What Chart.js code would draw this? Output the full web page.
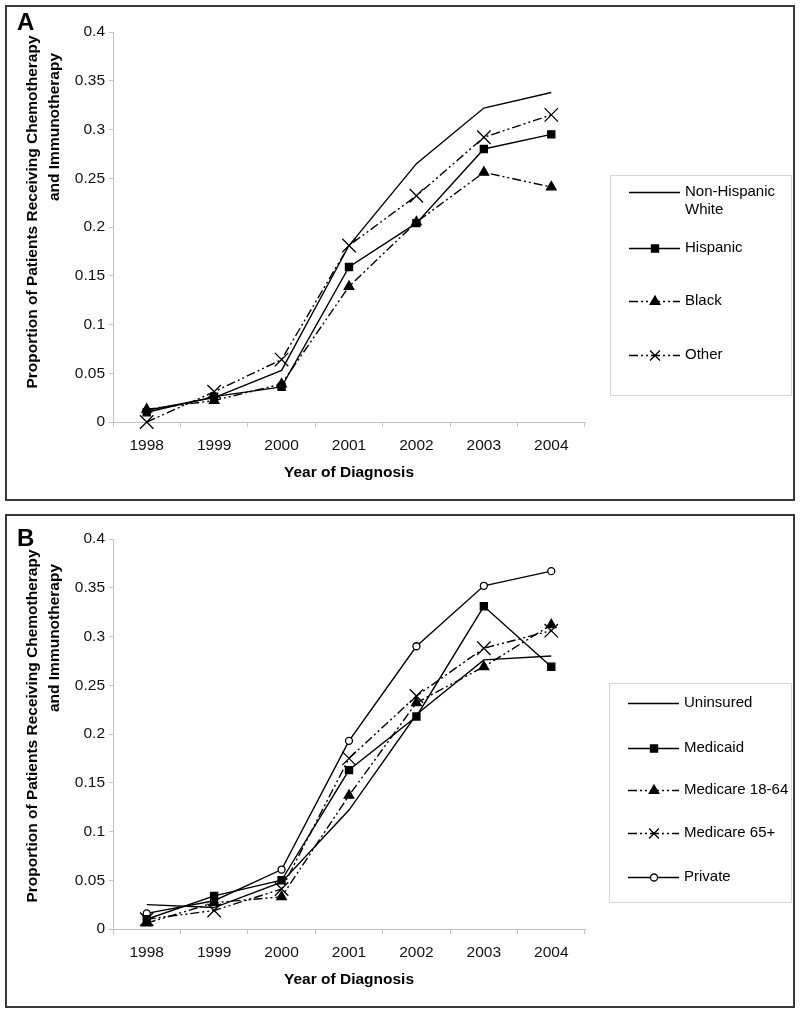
<!DOCTYPE html>
<html>
<head>
<meta charset="utf-8">
<script src="https://cdn.jsdelivr.net/npm/chart.js@4.4.1/dist/chart.umd.min.js"></script>
<style>
  body { margin: 0; background: #fff; width: 800px; height: 1015px; position: relative; }
  .panel { position: absolute; left: 5px; width: 790px; border: 2px solid #3a3a3a; box-sizing: border-box; background: #fff; }
  #panelA { top: 5px; height: 496px; }
  #panelB { top: 514px; height: 494px; }
  canvas { display: block; }
</style>
</head>
<body>
<div class="panel" id="panelA"><canvas id="chartA" width="786" height="492"></canvas></div>
<div class="panel" id="panelB"><canvas id="chartB" width="786" height="490"></canvas></div>
<script>
const years = ['1998', '1999', '2000', '2001', '2002', '2003', '2004'];
const yTickValues = [0, 0.05, 0.1, 0.15, 0.2, 0.25, 0.3, 0.35, 0.4];
const yTickLabels = ['0', '0.05', '0.1', '0.15', '0.2', '0.25', '0.3', '0.35', '0.4'];

// panel A - race / ethnicity
const raceLabels = ['Non-Hispanic White', 'Hispanic', 'Black', 'Other'];
const nonHispanicWhite = [0.012, 0.025, 0.053, 0.181, 0.265, 0.322, 0.338];
const hispanic = [0.010, 0.026, 0.036, 0.159, 0.204, 0.280, 0.295];
const black = [0.013, 0.022, 0.039, 0.139, 0.205, 0.256, 0.241];
const otherRace = [0.000, 0.031, 0.064, 0.181, 0.232, 0.292, 0.315];

// panel B - insurance
const insuranceLabels = ['Uninsured', 'Medicaid', 'Medicare 18-64', 'Medicare 65+', 'Private'];
const uninsured = [0.025, 0.022, 0.048, 0.122, 0.220, 0.276, 0.280];
const medicaid = [0.010, 0.034, 0.050, 0.163, 0.218, 0.331, 0.269];
const medicare1864 = [0.006, 0.027, 0.033, 0.137, 0.232, 0.269, 0.312];
const medicare65 = [0.010, 0.019, 0.041, 0.175, 0.239, 0.288, 0.306];
const privateIns = [0.016, 0.029, 0.061, 0.193, 0.290, 0.352, 0.367];

const FONT = '"Liberation Sans", Arial, sans-serif';
Chart.defaults.font.family = FONT;

const DASH_DOT_DOT = [9, 3, 2, 3, 2, 3];
const lineStyles = {
  plain: { pointStyle: 'circle', pointRadius: 0, borderDash: [], pointBackgroundColor: '#000' },
  square: { pointStyle: 'rect', pointRadius: 5, borderDash: [], pointBackgroundColor: '#000' },
  triangle: { pointStyle: 'triangle', pointRadius: 5.5, borderDash: DASH_DOT_DOT, pointBackgroundColor: '#000' },
  cross: { pointStyle: 'crossRot', pointRadius: 9.5, borderDash: DASH_DOT_DOT, pointBackgroundColor: '#000' },
  circle: { pointStyle: 'circle', pointRadius: 3.5, borderDash: [], pointBackgroundColor: '#fff' }
};

const makeDataset = (label, data, style) => Object.assign({
  label: label,
  data: data,
  borderColor: '#000',
  borderWidth: 1.4,
  pointBorderColor: '#000',
  pointBorderWidth: 1.3,
  pointHoverRadius: 0,
  tension: 0,
  fill: false,
  clip: false
}, lineStyles[style]);

const wrapText = (ctx, text, maxWidth) => {
  const words = text.split(' ');
  const lines = [];
  let cur = '';
  words.forEach(w => {
    const test = cur ? cur + ' ' + w : w;
    if (cur && ctx.measureText(test).width > maxWidth) {
      lines.push(cur);
      cur = w;
    } else {
      cur = test;
    }
  });
  lines.push(cur);
  return lines;
};

// letter, two-line y title and boxed legend
const panelDecor = {
  id: 'panelDecor',
  afterDraw(chart, args, opts) {
    const ctx = chart.ctx;
    ctx.save();
    ctx.fillStyle = '#000';
    ctx.font = 'bold 24px ' + FONT;
    ctx.textAlign = 'left';
    ctx.textBaseline = 'alphabetic';
    ctx.fillText(opts.letter, 10, opts.letterBaseline);

    ctx.font = 'bold 15.5px ' + FONT;
    ctx.textAlign = 'center';
    ctx.textBaseline = 'middle';
    opts.yTitle.forEach((line, i) => {
      ctx.save();
      ctx.translate(opts.yTitleX[i], chart.chartArea.top + opts.yTitleY[i]);
      ctx.rotate(-Math.PI / 2);
      ctx.fillText(line, 0, 0);
      ctx.restore();
    });

    const b = opts.box;
    ctx.strokeStyle = '#d6d6d6';
    ctx.lineWidth = 1;
    ctx.strokeRect(b.left + 0.5, b.top + 0.5, b.width, b.height);

    ctx.font = '15px ' + FONT;
    ctx.textAlign = 'left';
    chart.data.datasets.forEach((ds, i) => {
      const y = Math.round(opts.rows[i]) + 0.5;
      ctx.strokeStyle = '#000';
      ctx.lineWidth = ds.borderWidth;
      ctx.setLineDash(ds.borderDash);
      ctx.beginPath();
      ctx.moveTo(b.left + 19, y);
      ctx.lineTo(b.left + 70, y);
      ctx.stroke();
      ctx.setLineDash([]);
      if (ds.pointRadius > 0) {
        ctx.fillStyle = ds.pointBackgroundColor;
        ctx.lineWidth = ds.pointBorderWidth;
        Chart.helpers.drawPoint(ctx, {
          pointStyle: ds.pointStyle, radius: Math.min(ds.pointRadius, 7),
          borderWidth: ds.pointBorderWidth, rotation: 0
        }, b.left + 45, y);
      }
      ctx.fillStyle = '#000';
      const textX = b.left + 75;
      wrapText(ctx, ds.label, b.left + b.width - textX - 2)
        .forEach((t, k) => ctx.fillText(t, textX, opts.rows[i] + k * 18));
    });
    ctx.restore();
  }
};

const makeChart = (canvasId, datasets, decor, padTop) => {
  const ctx = document.getElementById(canvasId).getContext('2d');
  return new Chart(ctx, {
    type: 'line',
    data: { labels: years, datasets: datasets },
    options: {
      responsive: false,
      animation: false,
      events: [],
      layout: { padding: { top: padTop, right: 208, left: 0, bottom: 0 } },
      plugins: {
        legend: { display: false },
        tooltip: { enabled: false },
        panelDecor: decor
      },
      scales: {
        x: {
          offset: true,
          grid: { offset: true, drawOnChartArea: false, tickLength: 5, color: '#c4c4c4' },
          border: { color: '#c4c4c4' },
          ticks: { color: '#111', font: { size: 15.5 }, padding: 9, maxRotation: 0 },
          title: {
            display: true, text: 'Year of Diagnosis', color: '#000',
            font: { size: 15.5, weight: 'bold' }, padding: { top: 0, bottom: 17 }
          },
          afterFit: s => { s.height = 77; }
        },
        y: {
          min: 0,
          max: 0.4,
          afterBuildTicks: s => { s.ticks = yTickValues.map(v => ({ value: v })); },
          ticks: { color: '#111', font: { size: 15.5 }, padding: 4, callback: (v, i) => yTickLabels[i] },
          grid: { drawOnChartArea: false, tickLength: 4, color: '#c4c4c4' },
          border: { color: '#c4c4c4' },
          afterFit: s => { s.width = 106; }
        }
      }
    },
    plugins: [panelDecor]
  });
};

const yTitleLines = ['Proportion of Patients Receiving Chemotherapy', 'and Immunotherapy'];

makeChart('chartA', [
  makeDataset(raceLabels[0], nonHispanicWhite, 'plain'),
  makeDataset(raceLabels[1], hispanic, 'square'),
  makeDataset(raceLabels[2], black, 'triangle'),
  makeDataset(raceLabels[3], otherRace, 'cross')
], {
  letter: 'A', letterBaseline: 23,
  yTitle: yTitleLines, yTitleX: [26, 48], yTitleY: [180, 95],
  box: { left: 603, top: 168, width: 181, height: 220 },
  rows: [185, 241, 294, 348]
}, 25);

makeChart('chartB', [
  makeDataset(insuranceLabels[0], uninsured, 'plain'),
  makeDataset(insuranceLabels[1], medicaid, 'square'),
  makeDataset(insuranceLabels[2], medicare1864, 'triangle'),
  makeDataset(insuranceLabels[3], medicare65, 'cross'),
  makeDataset(insuranceLabels[4], privateIns, 'circle')
], {
  letter: 'B', letterBaseline: 30,
  yTitle: yTitleLines, yTitleX: [26, 48], yTitleY: [187, 99],
  box: { left: 602, top: 167, width: 182, height: 219 },
  rows: [187, 232, 274, 317, 361]
}, 23);
</script>
</body>
</html>
